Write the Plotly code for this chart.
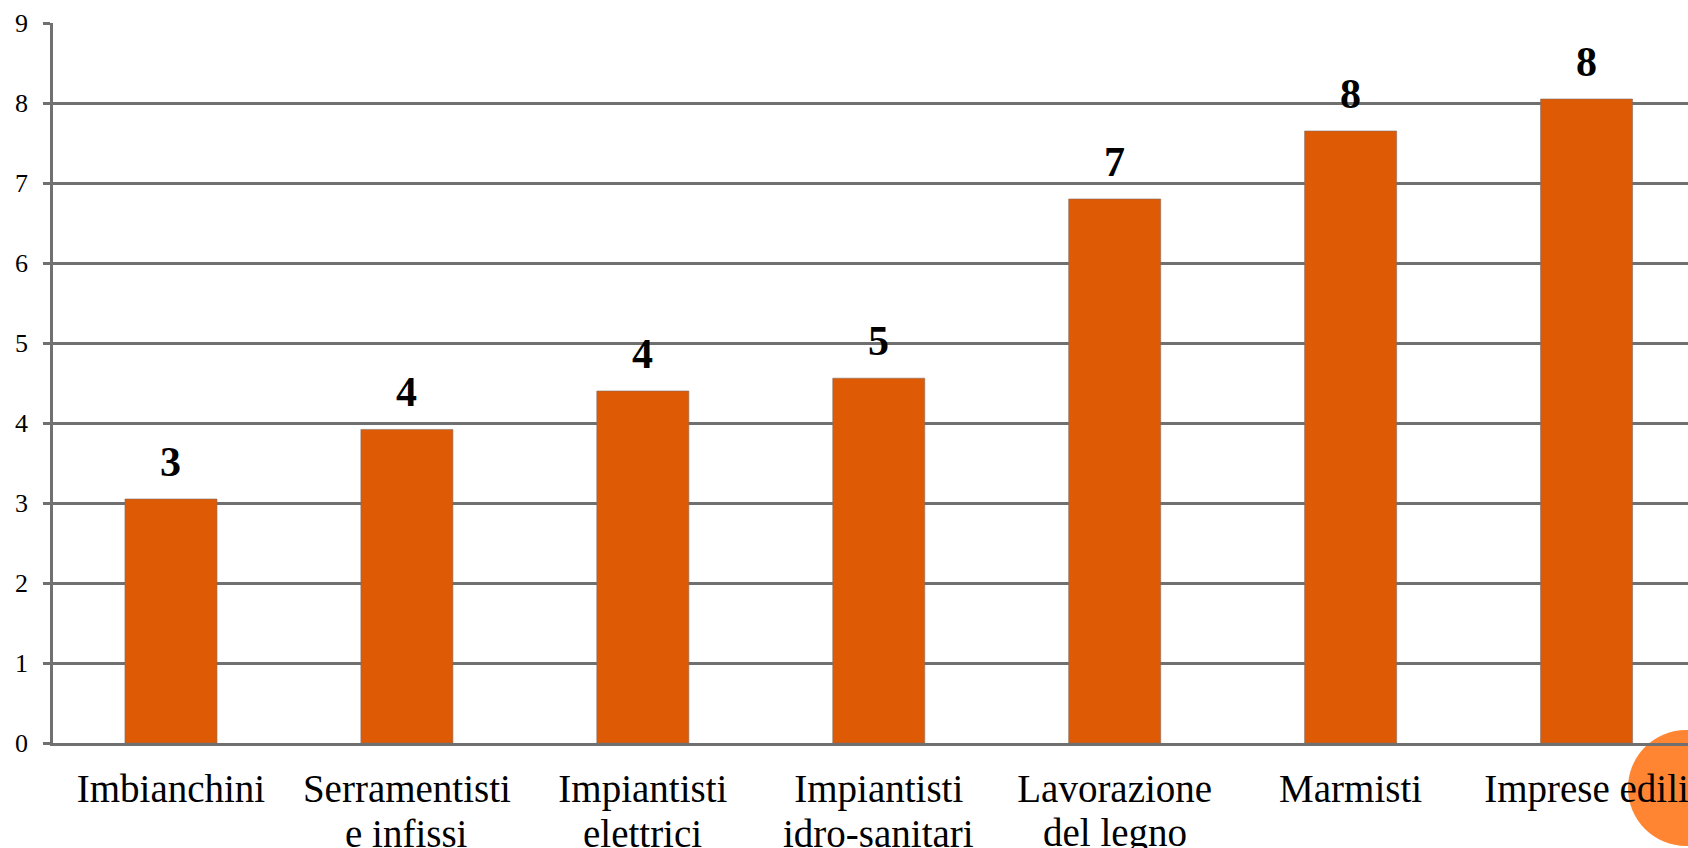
import plotly.graph_objects as go

categories = ["Imbianchini", "Serramentisti e infissi", "Impiantisti elettrici",
              "Impiantisti idro-sanitari", "Lavorazione del legno", "Marmisti", "Imprese edili"]
label_line1 = ["Imbianchini", "Serramentisti", "Impiantisti", "Impiantisti",
               "Lavorazione", "Marmisti", "Imprese edili"]
label_line2 = ["", "e infissi", "elettrici", "idro-sanitari", "del legno", "", ""]
values = [3.05, 3.92, 4.40, 4.56, 6.80, 7.65, 8.05]
labels = ["3", "4", "4", "5", "7", "8", "8"]
y_ticks = [0, 1, 2, 3, 4, 5, 6, 7, 8, 9]

BAR = "#DF5A04"
GRID = "#707070"
FONT = "Liberation Serif"

fig = go.Figure()
fig.add_trace(go.Bar(
    x=categories, y=values, width=0.39,
    marker=dict(color=BAR, line=dict(color="rgba(130,110,100,0.6)", width=1)),
    hoverinfo="skip",
))

for c, v, t in zip(categories, values, labels):
    fig.add_annotation(x=c, y=v, text="<b>%s</b>" % t, showarrow=False,
                       yanchor="bottom", yshift=12,
                       font=dict(family=FONT, size=42, color="black"))

for c, t in zip(categories, label_line2):
    if t:
        fig.add_annotation(x=c, y=0, text=t, showarrow=False,
                           yanchor="middle", yshift=-90,
                           font=dict(family=FONT, size=39, color="black"))

# decorative circle bottom-right
fig.add_shape(type="circle", xref="paper", yref="paper",
              x0=0.9633, x1=1.0343, y0=-0.143, y1=0.018,
              fillcolor="#FF8533", line=dict(width=0), layer="below")

fig.update_layout(
    width=1688, height=848,
    margin=dict(l=53, r=0, t=23, b=105, autoexpand=False),
    paper_bgcolor="white", plot_bgcolor="white",
    showlegend=False,
    font=dict(family=FONT, color="black"),
)
fig.update_xaxes(
    range=[-0.5, 6.43], showgrid=False, showline=True, linecolor=GRID, linewidth=2.5,
    ticks="", tickmode="array", tickvals=categories, ticktext=label_line1,
    ticklabelstandoff=9,
    tickfont=dict(family=FONT, size=39, color="black"), zeroline=False,
)
fig.update_yaxes(
    range=[0, 9], tickvals=y_ticks, showgrid=True, gridcolor=GRID, gridwidth=2.5,
    showline=True, linecolor=GRID, linewidth=2.5, ticks="outside", ticklen=7,
    tickcolor=GRID, tickwidth=2.5, ticklabelstandoff=10,
    tickfont=dict(family=FONT, size=26, color="black"), zeroline=False,
)

fig.write_html("out.html", config={"displayModeBar": False},
               post_script="document.body.style.margin='0';document.body.style.overflow='hidden';")
